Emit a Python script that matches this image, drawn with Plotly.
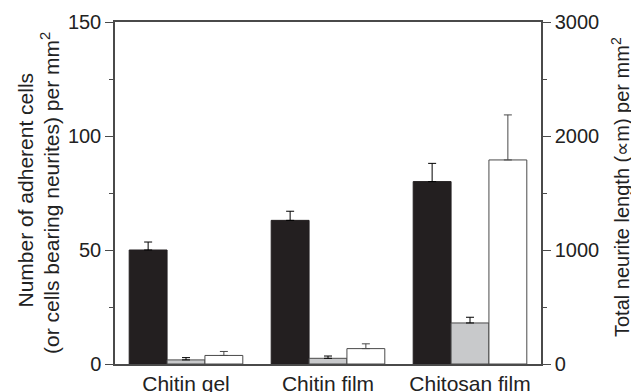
import plotly.graph_objects as go

categories = ["Chitin gel", "Chitin film", "Chitosan film"]
adherent = [50, 63, 80]
adherent_err = [3.5, 4, 8]
neurite_cells = [1.8, 2.5, 18]
neurite_cells_err = [1.0, 1.0, 2.5]
neurite_length = [75, 135, 1790]
neurite_length_err = [35, 42, 395]

FONT = "Arial, Liberation Sans, sans-serif"
LINE = "#4a4a4a"
W = 0.8 / 3

L, R, T, B = 115, 90, 22, 28
PW, PH = 631 - L - R, 392 - T - B


def px_x(px):
    return (px - L) / PW


def px_y(py):
    return (392 - B - py) / PH


fig = go.Figure()
fig.add_trace(go.Bar(
    x=categories, y=adherent, width=W, offset=-0.4,
    marker=dict(color="#231f20", line=dict(color="#231f20", width=1)),
    error_y=dict(type="data", array=adherent_err, arrayminus=[0]*3, symmetric=False,
                 color="black", thickness=1, width=4),
    showlegend=False))
fig.add_trace(go.Bar(
    x=categories, y=neurite_cells, width=W, offset=-0.4 + W,
    marker=dict(color="#c8c9cb", line=dict(color=LINE, width=1)),
    error_y=dict(type="data", array=neurite_cells_err, arrayminus=[0]*3, symmetric=False,
                 color="black", thickness=1, width=4),
    showlegend=False))
fig.add_trace(go.Bar(
    x=categories, y=neurite_length, width=W, offset=-0.4 + 2 * W, yaxis="y2",
    marker=dict(color="white", line=dict(color=LINE, width=1)),
    error_y=dict(type="data", array=neurite_length_err, arrayminus=[0]*3, symmetric=False,
                 color=LINE, thickness=1, width=4),
    showlegend=False))

annotations = [
    dict(text="Number of adherent cells", x=px_x(24.5), y=px_y(190),
         font=dict(family=FONT, size=21, color="#222")),
    dict(text="(or cells bearing neurites) per mm<sup>2</sup>", x=px_x(50), y=px_y(193),
         font=dict(family=FONT, size=21, color="#222")),
    dict(text="Total neurite length (∝m) per mm<sup>2</sup>", x=px_x(621), y=px_y(187),
         font=dict(family=FONT, size=20, color="#222")),
]
for a in annotations:
    a.update(xref="paper", yref="paper", showarrow=False, textangle=-90,
             xanchor="center", yanchor="middle")

fig.update_layout(
    width=631, height=392,
    margin=dict(l=L, r=R, t=T, b=B),
    paper_bgcolor="white", plot_bgcolor="white",
    barmode="overlay",
    font=dict(family=FONT, size=21, color="#222"),
    annotations=annotations,
    xaxis=dict(range=[-0.5, 2.5], showline=True, linecolor=LINE, linewidth=1.5,
               mirror=True, ticks="", showgrid=False, tickfont=dict(size=21),
               automargin=False),
    yaxis=dict(range=[0, 150], showline=True, linecolor=LINE, linewidth=1.5,
               tickvals=[0, 50, 100, 150], ticks="outside", ticklen=8, tickcolor=LINE,
               showgrid=False, zeroline=False, tickfont=dict(size=20), automargin=False,
               minor=dict(tickvals=[25, 75, 125], ticks="outside", ticklen=4, tickcolor=LINE)),
    yaxis2=dict(range=[0, 3000], overlaying="y", side="right", showline=True,
                linecolor=LINE, linewidth=1.5, automargin=False,
                tickvals=[0, 1000, 2000, 3000], ticks="outside", ticklen=8, tickcolor=LINE,
                showgrid=False, zeroline=False, tickfont=dict(size=20),
                minor=dict(tickvals=[500, 1500, 2500], ticks="outside", ticklen=4, tickcolor=LINE)),
)

fig.write_html("out.html", config={"displayModeBar": False},
               post_script="document.body.style.margin='0';document.body.style.overflow='hidden';")
